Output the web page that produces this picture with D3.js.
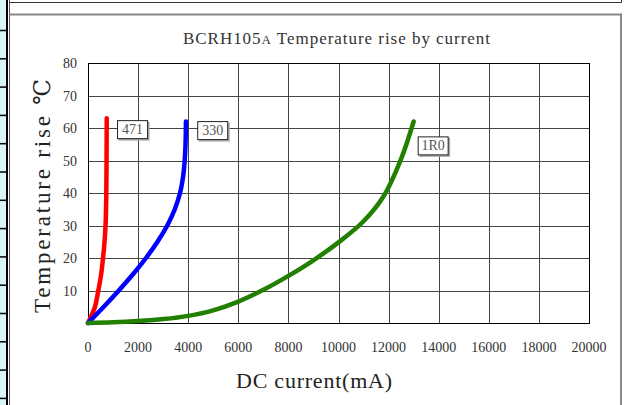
<!DOCTYPE html>
<html>
<head>
<meta charset="utf-8">
<script src="https://cdn.jsdelivr.net/npm/d3@7"></script>
<style>
  body { margin: 0; background: #fff; }
  svg { display: block; }
</style>
</head>
<body>
<div id="canvas"></div>
<script>
// data (current in mA, temperature rise in C)
var red471 = [[0,0],[150,2.5],[280,5],[413,10],[525,15],[600,20],[660,25],[700,30],[720,35],[731,40],[740,50],[748,63]];
var blue330 = [[0,0],[630,5],[1230,10],[1795,15],[2315,20],[2775,25],[3165,30],[3465,35],[3675,40],[3795,45],[3860,50],[3893,55],[3910,62]];
var green1R0 = [[0,0],[1000,0.2],[2000,0.6],[3000,1.2],[4000,2.2],[5000,3.9],[6000,6.6],[7000,10.2],[8000,14.5],[9000,19.3],[10000,24.8],[11000,31.3],[11800,39],[12500,50.5],[13000,62]];

var seriesNames = ["471", "330", "1R0"];
var seriesColours = ["#ff0000", "#0000ff", "#228000"];
// label box anchor: [current at box left, temp at box centre]
var labelPos = [[1160, 59.5], [4360, 59.2], [13160, 54.5]];

var xTicks = [0, 2000, 4000, 6000, 8000, 10000, 12000, 14000, 16000, 18000, 20000];
var yTicks = [10, 20, 30, 40, 50, 60, 70, 80];

var w = 627, h = 405;
var svg = d3.select("#canvas").append("svg").attr("width", w).attr("height", h);
var serif = "'Liberation Serif', 'DejaVu Serif', serif";

// left strip of spreadsheet cells
svg.append("rect").attr("x", 0).attr("y", 0).attr("width", 7).attr("height", h).style("fill", "#d9f5f7");
for (let i = 0; i < 15; i++) {
  svg.append("line").attr("x1", 0).attr("x2", 7)
      .attr("y1", 30.5 + i * 28.3).attr("y2", 30.5 + i * 28.3)
      .style("stroke", "#000").style("stroke-width", 1.5);
}
svg.append("line").attr("x1", 7).attr("x2", 7).attr("y1", 0).attr("y2", h)
    .style("stroke", "#000").style("stroke-width", 2);
svg.append("line").attr("x1", 9.5).attr("x2", 9.5).attr("y1", 0).attr("y2", h)
    .style("stroke", "#555").style("stroke-width", 1);

// top strip frame
svg.append("path").attr("d", "M9.5,2.5 H621.5 V0")
    .style("fill", "none").style("stroke", "#333").style("stroke-width", 1);
// chart frame
svg.append("path").attr("d", "M9.5,14.5 H621 V405")
    .style("fill", "none").style("stroke", "#888").style("stroke-width", 2);

var x = d3.scaleLinear().domain([0, 20000]).range([88, 589]);
var y = d3.scaleLinear().domain([0, 80]).range([323, 63]);

// grid
var grid = svg.append("g");
grid.selectAll(".vg").data(xTicks).enter().append("line")
    .attr("x1", d => Math.round(x(d)) + 0.5).attr("x2", d => Math.round(x(d)) + 0.5)
    .attr("y1", y(80)).attr("y2", y(0))
    .style("stroke", "#444").style("stroke-width", 1);
grid.selectAll(".hg").data(yTicks).enter().append("line")
    .attr("x1", x(0)).attr("x2", x(20000))
    .attr("y1", d => Math.round(y(d)) + 0.5).attr("y2", d => Math.round(y(d)) + 0.5)
    .style("stroke", "#444").style("stroke-width", 1);
svg.append("rect").attr("x", x(0) + 0.5).attr("y", y(80) + 0.5)
    .attr("width", x(20000) - x(0)).attr("height", y(0) - y(80))
    .style("fill", "none").style("stroke", "#000").style("stroke-width", 1);

// tick labels
svg.selectAll(".xt").data(xTicks).enter().append("text")
    .attr("x", d => x(d)).attr("y", 352)
    .attr("text-anchor", "middle")
    .style("font-family", serif).style("font-size", "14px").style("fill", "#333")
    .text(d => d);
svg.selectAll(".yt").data(yTicks).enter().append("text")
    .attr("x", 77).attr("y", d => y(d) + 5)
    .attr("text-anchor", "end")
    .style("font-family", serif).style("font-size", "14px").style("fill", "#333")
    .text(d => d);

// curves
var line = d3.line()
    .x(d => x(d[0])).y(d => y(d[1]))
    .curve(d3.curveCatmullRom.alpha(0.5));
var allSeries = [red471, blue330, green1R0];
allSeries.forEach(function(s, i) {
  svg.append("path").attr("d", line(s))
      .style("fill", "none").style("stroke", seriesColours[i])
      .style("stroke-width", 4.5).style("stroke-linecap", "round");
});

// label boxes
labelPos.forEach(function(p, i) {
  var bx = x(p[0]), by = y(p[1]) - 9.5;
  svg.append("rect").attr("x", bx + 1.5).attr("y", by + 1.5).attr("width", 31).attr("height", 19)
      .style("fill", "#aaa");
  svg.append("rect").attr("x", bx + 0.5).attr("y", by + 0.5).attr("width", 30).attr("height", 18)
      .style("fill", "#fff").style("stroke", "#222").style("stroke-width", 1);
  svg.append("text").attr("x", bx + 15.5).attr("y", by + 14)
      .attr("text-anchor", "middle")
      .style("font-family", serif).style("font-size", "14px").style("fill", "#555")
      .text(seriesNames[i]);
});

// title
var title = svg.append("text").attr("x", 183).attr("y", 44)
    .attr("textLength", 307).attr("lengthAdjust", "spacing")
    .style("font-family", serif).style("font-size", "17px").style("fill", "#333");
title.append("tspan").text("BCRH105");
title.append("tspan").style("font-size", "13px").text("A");
title.append("tspan").text(" Temperature rise by current");

// axis titles
svg.append("text").attr("x", 314).attr("y", 388)
    .attr("text-anchor", "middle")
    .attr("textLength", 156).attr("lengthAdjust", "spacing")
    .style("font-family", serif).style("font-size", "22px").style("fill", "#222")
    .text("DC current(mA)");
svg.append("text")
    .attr("transform", "translate(50,196) rotate(-90)")
    .attr("text-anchor", "middle")
    .attr("textLength", 234).attr("lengthAdjust", "spacing")
    .style("font-family", serif).style("font-size", "23px").style("fill", "#222")
    .text("Temperature rise ℃");
</script>
</body>
</html>
